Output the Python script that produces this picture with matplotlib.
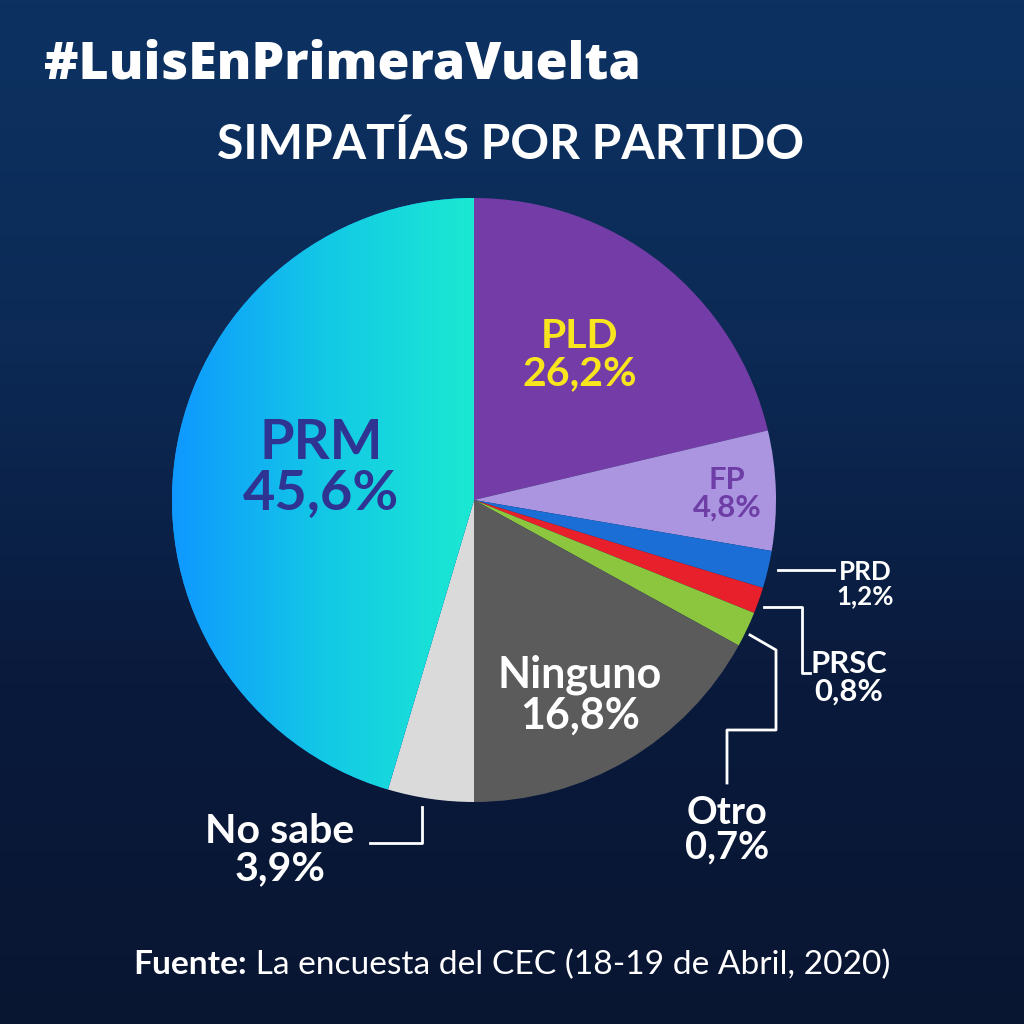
import numpy as np
import matplotlib
matplotlib.use('Agg')
import matplotlib.pyplot as plt
from matplotlib.colors import LinearSegmentedColormap

# data
parties = ['PLD', 'FP', 'PRD', 'PRSC', 'Otro', 'Ninguno', 'No sabe', 'PRM']
reported = [26.2, 4.8, 1.2, 0.8, 0.7, 16.8, 3.9, 45.6]
# slice sizes as drawn in the source graphic (small slices are enlarged there)
drawn_share = [21.3, 6.4, 2.0, 1.4, 1.9, 17.0, 4.6, 45.4]
colors = ['#743ca6', '#ab95e1', '#1a6ed6', '#e8202b', '#8cc63f', '#5b5b5b', '#dadada', '#16a2ff']

title_tag = '#LuisEnPrimeraVuelta'
title = 'SIMPATÍAS POR PARTIDO'
source_bold = 'Fuente:'
source_rest = ' La encuesta del CEC (18-19 de Abril, 2020)'

FONT = 'Lato'
PX = 1 / 1.389  # pixel height -> points at dpi 100


def pct(v):
    return f'{v:.1f}'.replace('.', ',') + '%'


fig = plt.figure(figsize=(10.24, 10.24), dpi=100)

# background gradient
bg = fig.add_axes([0, 0, 1, 1], zorder=0)
bg.set_xlim(0, 1024)
bg.set_ylim(1024, 0)
bg.axis('off')
grad = np.linspace(0, 1, 256).reshape(-1, 1)
bg_cmap = LinearSegmentedColormap.from_list('bg', ['#0d3262', '#0c2a55', '#0a1a3c', '#091632'])
bg.imshow(grad, extent=(0, 1024, 1024, 0), cmap=bg_cmap, aspect='auto')

# pie
cx, cy, r = 474, 500, 302
ax = fig.add_axes([(cx - r) / 1024, (1024 - cy - r) / 1024, 2 * r / 1024, 2 * r / 1024], zorder=1)
wedges, _ = ax.pie(drawn_share, colors=colors, startangle=90, counterclock=False,
                   wedgeprops=dict(linewidth=0))
ax.set_aspect('equal')
ax.axis('off')

# PRM gradient fill
prm = wedges[-1]
prm_cmap = LinearSegmentedColormap.from_list('prm', ['#0f98ff', '#13c8e6', '#1be9d2'])
hgrad = np.linspace(0, 1, 256).reshape(1, -1)
im = ax.imshow(hgrad, extent=(-1, 0, -1, 1), cmap=prm_cmap, aspect='auto', zorder=2)
im.set_clip_path(prm)
ax.set_xlim(-1, 1)
ax.set_ylim(-1, 1)

# text layer
tx = fig.add_axes([0, 0, 1, 1], zorder=2)
tx.set_xlim(0, 1024)
tx.set_ylim(1024, 0)
tx.axis('off')
tx.patch.set_alpha(0)

tx.text(44, 65, title_tag, fontsize=52 * PX, fontfamily='Open Sans', fontweight='heavy',
        color='white', ha='left', va='center')
tx.text(511, 145, title, fontsize=48 * PX, fontfamily=FONT, fontweight='bold',
        color='white', ha='center', va='center')

label_style = {
    'PLD': dict(xy=(580, 355), size=41, color='#f8e51d'),
    'FP': dict(xy=(727, 494), size=31, color='#6e3ea6'),
    'Ninguno': dict(xy=(580, 695), size=43, color='white'),
    'PRM': dict(xy=(321, 468), size=56, color='#2f3391'),
    'PRD': dict(xy=(865, 584), size=26, color='white'),
    'PRSC': dict(xy=(849, 678), size=31, color='white'),
    'Otro': dict(xy=(727, 830), size=38, color='white'),
    'No sabe': dict(xy=(280, 850), size=41, color='white'),
}
for name, val in zip(parties, reported):
    st = label_style[name]
    tx.text(st['xy'][0], st['xy'][1], f'{name}\n{pct(val)}', fontsize=st['size'] * PX,
            fontfamily=FONT, fontweight='bold', color=st['color'], ha='center', va='center',
            linespacing=1.0)

# leader lines
lw = 2
tx.plot([778, 834], [570, 570], color='white', lw=lw)
tx.plot([764, 802, 802, 810], [607, 607, 673, 673], color='white', lw=lw)
tx.plot([750, 776, 776, 727, 727], [635, 650, 730, 730, 783], color='white', lw=lw)
tx.plot([422, 422, 370], [807, 843, 843], color='white', lw=lw)

# source
t1 = tx.text(133, 965, source_bold, fontsize=33.5 * PX, fontfamily=FONT, fontweight='bold',
             color='white', ha='left', va='center')
tx.annotate(source_rest, xy=(1, 0.5), xycoords=t1, fontsize=33.5 * PX, fontfamily=FONT,
            fontweight='normal', color='white', ha='left', va='center')

fig.savefig('out.png', dpi=100)
